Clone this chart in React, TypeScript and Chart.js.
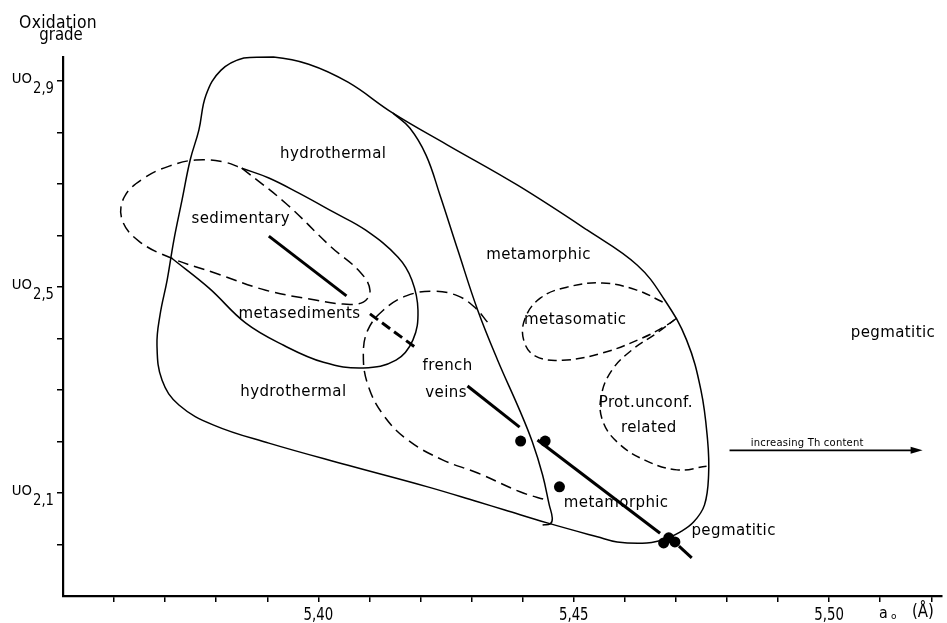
import React, { useEffect, useRef } from "react";
import { Chart, registerables } from "chart.js";

Chart.register(...registerables);

// ---- axis ----
const xMin = 5.35;
const xMax = 5.522;
const yMin = 1.9;
const yMax = 2.947;
const xTickValues = [5.36, 5.37, 5.38, 5.39, 5.4, 5.41, 5.42, 5.43, 5.44, 5.45, 5.46, 5.47, 5.48, 5.49, 5.5, 5.51, 5.52];
const yTickValues = [2.0, 2.1, 2.2, 2.3, 2.4, 2.5, 2.6, 2.7, 2.8, 2.9];
const xLabelValues = [5.4, 5.45, 5.5];
const xLabelTexts = ["5,40", "5,45", "5,50"];
const yLabelValues = [2.9, 2.5, 2.1];
const yLabelSubs = ["2,9", "2,5", "2,1"];

// ---- field outlines (a0 in Å, oxidation grade) ----
const envX = [5.4676, 5.4643, 5.4585, 5.4546, 5.4448, 5.4365, 5.4312, 5.4214, 5.4058, 5.3903, 5.3795, 5.3727, 5.3694, 5.3684, 5.369, 5.3704, 5.3717, 5.3733, 5.3749, 5.3766, 5.378, 5.3809, 5.3854, 5.3912, 5.3981, 5.4058, 5.4146, 5.4253, 5.439, 5.4526, 5.4624, 5.4678, 5.4721, 5.4749, 5.4762, 5.4764, 5.4756, 5.4735, 5.4708, 5.4676];
const envY = [2.009, 2.003, 2.005, 2.015, 2.042, 2.067, 2.083, 2.112, 2.154, 2.197, 2.232, 2.271, 2.319, 2.387, 2.446, 2.514, 2.591, 2.669, 2.747, 2.805, 2.873, 2.921, 2.945, 2.947, 2.933, 2.898, 2.838, 2.776, 2.698, 2.611, 2.543, 2.475, 2.397, 2.3, 2.203, 2.135, 2.077, 2.044, 2.024, 2.009];

const metaInnerX = [5.4146, 5.4179, 5.4211, 5.4238, 5.4273, 5.4312, 5.4351, 5.4394, 5.4419, 5.4439, 5.4452, 5.4458, 5.4454, 5.4439];
const metaInnerY = [2.838, 2.809, 2.756, 2.679, 2.572, 2.455, 2.358, 2.261, 2.199, 2.135, 2.077, 2.051, 2.04, 2.038];

const sedLobeX = [5.385, 5.3903, 5.3961, 5.4029, 5.4092, 5.4156, 5.4183, 5.4195, 5.4185, 5.4152, 5.4088, 5.401, 5.3932, 5.3858, 5.3786, 5.3713];
const sedLobeY = [2.731, 2.712, 2.683, 2.646, 2.611, 2.558, 2.514, 2.455, 2.397, 2.358, 2.343, 2.354, 2.387, 2.43, 2.498, 2.556];

const sedDashX = [5.385, 5.3936, 5.4025, 5.4082, 5.4101, 5.4088, 5.4049, 5.3994, 5.3897, 5.3799, 5.3713, 5.3649, 5.3616, 5.362, 5.3659, 5.3708, 5.376, 5.3815, 5.385];
const sedDashY = [2.731, 2.663, 2.578, 2.529, 2.494, 2.471, 2.467, 2.475, 2.494, 2.527, 2.556, 2.589, 2.63, 2.675, 2.712, 2.735, 2.747, 2.743, 2.731];

const frenchX = [5.4331, 5.4308, 5.4273, 5.4224, 5.4172, 5.4127, 5.4097, 5.4088, 5.4097, 5.4127, 5.4175, 5.4244, 5.4312, 5.4396, 5.4448];
const frenchY = [2.432, 2.459, 2.483, 2.492, 2.483, 2.455, 2.417, 2.368, 2.31, 2.252, 2.203, 2.164, 2.139, 2.102, 2.086];

const metasomX = [5.4674, 5.4624, 5.4556, 5.4487, 5.4435, 5.4405, 5.4402, 5.4425, 5.4478, 5.4556, 5.4634, 5.4682, 5.4702];
const metasomY = [2.471, 2.494, 2.508, 2.5, 2.479, 2.44, 2.397, 2.366, 2.358, 2.372, 2.401, 2.426, 2.44];

const protX = [5.4702, 5.4663, 5.4614, 5.4575, 5.4554, 5.4556, 5.4585, 5.4639, 5.4702, 5.476];
const protY = [2.44, 2.411, 2.378, 2.339, 2.29, 2.242, 2.199, 2.164, 2.145, 2.152];

// ---- trend line pieces ----
const trend1X = [5.3903, 5.4055];
const trend1Y = [2.599, 2.483];
const trend2X = [5.4101, 5.4191];
const trend2Y = [2.448, 2.382];
const trend3X = [5.4292, 5.4394];
const trend3Y = [2.308, 2.228];
const trend4X = [5.4429, 5.4669];
const trend4Y = [2.203, 2.022];
const trend5X = [5.4706, 5.4731];
const trend5Y = [1.997, 1.974];

// ---- samples ----
const dotX = [5.4396, 5.4444, 5.4472, 5.4676, 5.4686, 5.4698];
const dotY = [2.201, 2.201, 2.112, 2.003, 2.013, 2.005];

// ---- field labels ----
const regionLabels = ["hydrothermal", "sedimentary", "metamorphic", "metasediments", "metasomatic", "pegmatitic", "french", "veins", "hydrothermal", "Prot.unconf.", "related", "metamorphic", "pegmatitic"];
const regionLabelX = [5.4029, 5.3848, 5.4431, 5.3963, 5.4503, 5.5125, 5.4253, 5.425, 5.3951, 5.4641, 5.4647, 5.4583, 5.4813];
const regionLabelY = [2.758, 2.632, 2.562, 2.448, 2.436, 2.411, 2.347, 2.294, 2.296, 2.275, 2.226, 2.081, 2.026];

const arrowX = [5.4805, 5.5183];
const arrowY = [2.183, 2.183];
const arrowLabel = "increasing Th content";
const arrowLabelX = 5.4957;
const arrowLabelY = 2.197;

const FONT = '"DejaVu Sans", sans-serif';

const pts = (xs: number[], ys: number[]) => xs.map((x, i) => ({ x, y: ys[i] }));

const curve = (xs: number[], ys: number[], dash: number[] = [], width = 1.5, tension = 0.4) => ({
  data: pts(xs, ys),
  showLine: true,
  borderColor: "#000",
  backgroundColor: "#000",
  borderWidth: width,
  borderDash: dash,
  pointRadius: 0,
  pointHoverRadius: 0,
  tension,
  fill: false,
  clip: false,
});

function drawText(ctx: CanvasRenderingContext2D, text: string, x: number, y: number, font: string, align: CanvasTextAlign, sx = 1, baseline: CanvasTextBaseline = "alphabetic", spacing = 0) {
  ctx.save();
  ctx.font = font;
  ctx.textAlign = align;
  ctx.textBaseline = baseline;
  (ctx as any).letterSpacing = spacing + "px";
  ctx.translate(x, y);
  ctx.scale(sx, 1);
  ctx.fillText(text, 0, 0);
  ctx.restore();
}

const annotPlugin = {
  id: "annot",
  afterDraw(chart: any) {
    const ctx: CanvasRenderingContext2D = chart.ctx;
    const xs = chart.scales.x;
    const ys = chart.scales.y;
    const px = (v: number) => xs.getPixelForValue(v);
    const py = (v: number) => ys.getPixelForValue(v);
    ctx.save();
    ctx.fillStyle = "#000";
    ctx.strokeStyle = "#000";

    // field labels
    regionLabels.forEach((t, i) => {
      drawText(ctx, t, px(regionLabelX[i]), py(regionLabelY[i]), `15px ${FONT}`, "center", 1, "middle", 0.4);
    });

    // arrow
    const ax1 = px(arrowX[0]);
    const ax2 = px(arrowX[1]);
    const ay = py(arrowY[0]);
    ctx.lineWidth = 1.7;
    ctx.beginPath();
    ctx.moveTo(ax1, ay);
    ctx.lineTo(ax2 - 6, ay);
    ctx.stroke();
    ctx.beginPath();
    ctx.moveTo(ax2, ay);
    ctx.lineTo(ax2 - 12, ay - 3.5);
    ctx.lineTo(ax2 - 12, ay + 3.5);
    ctx.closePath();
    ctx.fill();
    drawText(ctx, arrowLabel, px(arrowLabelX), py(arrowLabelY), `10px ${FONT}`, "center", 1, "middle", 0.2);

    // y labels
    yLabelValues.forEach((v, i) => {
      const y = py(v);
      drawText(ctx, "UO", 32, y + 2, `14px ${FONT}`, "right", 0.95);
      drawText(ctx, yLabelSubs[i], 33, y + 12, `15px ${FONT}`, "left", 0.88);
    });
    // x labels
    xLabelValues.forEach((v, i) => {
      drawText(ctx, xLabelTexts[i], px(v), 620, `18px ${FONT}`, "center", 0.74);
    });
    // axis titles
    drawText(ctx, "Oxidation", 58, 28, `17px ${FONT}`, "center", 0.92, "alphabetic", 0.3);
    drawText(ctx, "grade", 61, 40, `17px ${FONT}`, "center", 0.88);
    drawText(ctx, "a", 879, 618, `15px ${FONT}`, "left", 0.95);
    drawText(ctx, "o", 891, 619, `9px ${FONT}`, "left", 1);
    drawText(ctx, "(Å)", 912, 617, `17px ${FONT}`, "left", 0.88);
    ctx.restore();
  },
};

export default function App() {
  const ref = useRef<HTMLCanvasElement | null>(null);
  useEffect(() => {
    if (!ref.current) return;
    const chart = new Chart(ref.current, {
      type: "scatter",
      data: {
        datasets: [
          curve(envX, envY),
          curve(metaInnerX, metaInnerY),
          curve(sedLobeX, sedLobeY),
          curve(sedDashX, sedDashY, [11, 6]),
          curve(frenchX, frenchY, [11, 6]),
          curve(metasomX, metasomY, [9, 5]),
          curve(protX, protY, [9, 5]),
          curve(trend1X, trend1Y, [], 3, 0),
          curve(trend2X, trend2Y, [10, 5], 3, 0),
          curve(trend3X, trend3Y, [], 3, 0),
          curve(trend4X, trend4Y, [], 3, 0),
          curve(trend5X, trend5Y, [], 3, 0),
          {
            data: pts(dotX, dotY),
            showLine: false,
            pointRadius: 5.5,
            pointHoverRadius: 5.5,
            pointBackgroundColor: "#000",
            pointBorderColor: "#000",
            pointBorderWidth: 0,
            clip: false,
          } as any,
        ],
      },
      options: {
        responsive: false,
        animation: false,
        events: [],
        layout: { padding: { left: 0, right: 0, top: 57, bottom: 0 } },
        plugins: { legend: { display: false }, tooltip: { enabled: false } },
        scales: {
          x: {
            type: "linear",
            min: xMin,
            max: xMax,
            afterBuildTicks: (s: any) => {
              s.ticks = xTickValues.map((value) => ({ value }));
            },
            afterFit: (s: any) => {
              s.height = 27;
            },
            ticks: { display: false },
            grid: { drawOnChartArea: false, drawTicks: true, tickLength: 6, color: "#000", lineWidth: 1.5 },
            border: { display: true, color: "#000", width: 2.2 },
          },
          y: {
            type: "linear",
            min: yMin,
            max: yMax,
            afterBuildTicks: (s: any) => {
              s.ticks = yTickValues.map((value) => ({ value }));
            },
            afterFit: (s: any) => {
              s.width = 63;
            },
            ticks: { display: false },
            grid: { drawOnChartArea: false, drawTicks: true, tickLength: 6, color: "#000", lineWidth: 1.5 },
            border: { display: true, color: "#000", width: 2.2 },
          },
        },
      },
      plugins: [annotPlugin],
    } as any);
    return () => chart.destroy();
  }, []);
  return (
    <div style={{ position: "fixed", left: 0, top: 0, width: 947, height: 623, background: "#fff" }}>
      <canvas ref={ref} width={947} height={623} style={{ display: "block", width: "947px", height: "623px" }} />
    </div>
  );
}
